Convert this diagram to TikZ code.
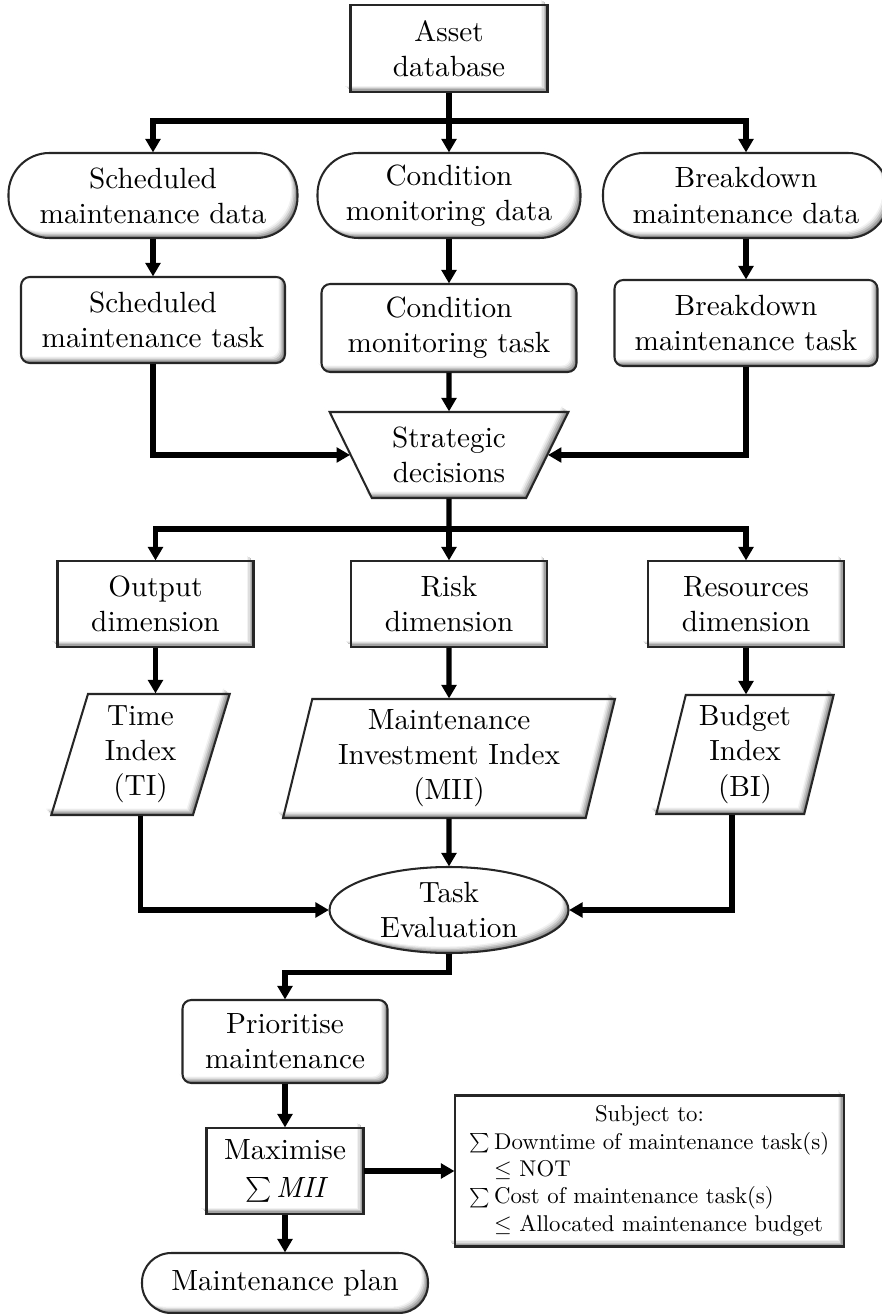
\documentclass[tikz,border=0pt]{standalone}
\usepackage{graphicx}
\usetikzlibrary{shapes.geometric,arrows.meta,calc}
\newdimen\pxu \pxu=0.342pt
% compact summation sign centred on the math axis
\newcommand{\sigmasum}{\mathop{\vcenter{\hbox{\scalebox{0.85}{$\textstyle\sum$}}}}}

\begin{document}
\begin{tikzpicture}[x=0.342pt,y=-0.342pt,
  % white body with a soft inner shade along the lower and right edges
  bevel/.style={fill=black!50, draw=none, inner sep=0pt, align=center,
    postaction={fill=black!36, transform canvas={shift={(-0.45pt,0.45pt)}}},
    postaction={fill=black!24, transform canvas={shift={(-0.9pt,0.9pt)}}},
    postaction={fill=black!13, transform canvas={shift={(-1.35pt,1.35pt)}}},
    postaction={fill=black!5, transform canvas={shift={(-1.8pt,1.8pt)}}},
    postaction={fill=white, transform canvas={shift={(-2.2pt,2.2pt)}}},
    postaction={draw=black!85, line width=0.7pt}},
  box/.style={bevel, rectangle},
  roundbox/.style={bevel, rectangle, rounded corners=3pt},
  terminal/.style={bevel, rectangle, rounded corners=#1},
  slanted/.style={bevel, trapezium, trapezium left angle=#1,
    trapezium right angle=180-#1, trapezium stretches=true},
  funnel/.style={bevel, trapezium, trapezium left angle=61,
    trapezium right angle=61, shape border rotate=180, trapezium stretches=true},
  oval/.style={bevel, ellipse},
  conn/.style={line width=1.8pt},
  arr/.style={conn, -{Triangle[length=4.6pt,width=5pt]}}
]
\useasboundingbox (0,0) rectangle (882,1314);

% source
\node[box, minimum width=197\pxu, minimum height=87\pxu] (asset) at (449,48.5) {Asset\\database};

% data sources
\node[terminal=14pt, minimum width=289\pxu, minimum height=85\pxu] (smd) at (153,195.5) {Scheduled\\maintenance data};
\node[terminal=14pt, minimum width=263\pxu, minimum height=85\pxu] (cmd) at (449,195.5) {Condition\\monitoring data};
\node[terminal=14pt, minimum width=286\pxu, minimum height=85\pxu] (bmd) at (746,195.5) {Breakdown\\maintenance data};

% tasks
\node[roundbox, minimum width=264\pxu, minimum height=86\pxu] (smt) at (153,320) {Scheduled\\maintenance task};
\node[roundbox, minimum width=255\pxu, minimum height=88\pxu] (cmt) at (449,328) {Condition\\monitoring task};
\node[roundbox, minimum width=263\pxu, minimum height=86\pxu] (bmt) at (746,323) {Breakdown\\maintenance task};

% decisions
\node[funnel, minimum width=239\pxu, minimum height=86\pxu] (sd) at (449,455) {Strategic\\decisions};

% dimensions
\node[box, minimum width=196\pxu, minimum height=86\pxu] (od) at (155.5,604) {Output\\dimension};
\node[box, minimum width=196\pxu, minimum height=86\pxu] (rd) at (449,604) {Risk\\dimension};
\node[box, minimum width=196\pxu, minimum height=86\pxu] (resd) at (746,604) {Resources\\dimension};

% indices
\node[slanted=75.6, minimum width=179\pxu, minimum height=121\pxu] (ti) at (140.5,754.5) {Time\\Index\\(TI)};
\node[slanted=76.3, minimum width=334\pxu, minimum height=119\pxu] (mii) at (449,758.5) {Maintenance\\Investment Index\\(MII)};
\node[slanted=76.8, minimum width=178\pxu, minimum height=119\pxu] (bi) at (745,754.5) {Budget\\Index\\(BI)};

% evaluation and planning
\node[oval, minimum width=239\pxu, minimum height=86\pxu] (te) at (449,910) {Task\\Evaluation};
\node[roundbox, minimum width=205\pxu, minimum height=83\pxu] (pm) at (285,1041.5) {Prioritise\\maintenance};
\node[box, minimum width=157\pxu, minimum height=86\pxu] (mx) at (285,1171) {Maximise\\[1pt]$\sigmasum\textit{MII}$};
\node[box, minimum width=389\pxu, minimum height=151\pxu] (cb) at (649.5,1171)
  {\scalebox{0.78}{\begin{tabular}{@{}l@{}}
   \multicolumn{1}{@{}c@{}}{Subject to:}\\
   $\sigmasum$\,Downtime of maintenance task(s)\\
   \hphantom{$\sigmasum$\,}$\leq$ NOT\\
   $\sigmasum$\,Cost of maintenance task(s)\\
   \hphantom{$\sigmasum$\,}$\leq$ Allocated maintenance budget
   \end{tabular}}};
\node[terminal=10pt, minimum width=286\pxu, minimum height=60\pxu] (mp) at (285,1283) {Maintenance plan};

% connectors
\coordinate (b1) at (449,121);
\draw[conn] (asset) -- (b1);
\draw[arr] (b1) -| (smd);
\draw[arr] (b1) -- (cmd);
\draw[arr] (b1) -| (bmd);

\draw[arr] (smd) -- (smt);
\draw[arr] (cmd) -- (cmt);
\draw[arr] (bmd) -- (bmt);

\draw[arr] (smt) |- (sd);
\draw[arr] (cmt) -- (sd);
\draw[arr] (bmt) |- (sd);

\coordinate (b2) at (449,529);
\draw[conn] (sd) -- (b2);
\draw[arr] (b2) -| (od);
\draw[arr] (b2) -- (rd);
\draw[arr] (b2) -| (resd);

\draw[arr] (od.south) -- (od.south |- ti.north);
\draw[arr] (rd) -- (mii);
\draw[arr] (resd.south) -- (resd.south |- bi.north);

\draw[arr] (ti.south) |- (te);
\draw[arr] (mii) -- (te);
\draw[arr] ([xshift=-13\pxu]bi.south) |- (te);

\draw[arr] (te.south) -- ++(0,19) -| (pm);
\draw[arr] (pm) -- (mx);
\draw[arr] (mx) -- (cb);
\draw[arr] (mx) -- (mp);
\end{tikzpicture}
\end{document}
